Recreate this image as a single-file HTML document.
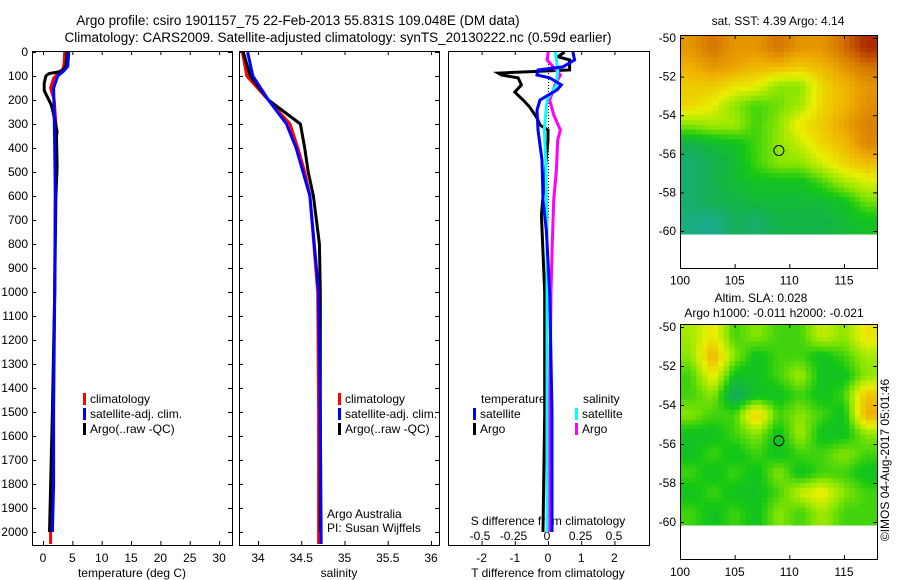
<!DOCTYPE html>
<html><head><meta charset="utf-8"><style>
html,body{margin:0;padding:0;background:#fff;}
svg{display:block;font-family:"Liberation Sans",sans-serif;}
</style></head><body>
<svg id="chart" width="900" height="580" viewBox="0 0 900 580" xmlns="http://www.w3.org/2000/svg">
<text x="298" y="25" font-size="13.5" text-anchor="middle">Argo profile: csiro 1901157_75 22-Feb-2013 55.831S 109.048E (DM data)</text>
<text x="338" y="42" font-size="13.5" text-anchor="middle">Climatology: CARS2009. Satellite-adjusted climatology: synTS_20130222.nc (0.59d earlier)</text>
<g id="g"></g>
</svg>
<script>
// ---- data ----
const tempDepth = [0,50,70,90,110,150,200,300,400,450,600,1000,1500,2000,2050];
const tempClim  = [3.7,3.6,3.4,2.5,1.8,1.3,1.9,2.2,2.2,2.3,2.1,2.0,1.7,1.3,1.3];
const argoTDepth = [0,60,80,90,100,130,160,180,220,260,330,350,480,600,1000,1500,2000];
const tempArgo   = [4.1,3.9,3.2,1.0,0.5,0.2,0.2,0.6,1.4,1.8,2.4,2.3,2.4,2.2,2.0,1.6,1.1];
const satTDepth = [0,60,80,100,150,250,400,600,1000,1500,1800,2000];
const tempSat   = [4.4,4.2,3.5,2.5,1.8,1.9,2.0,2.1,2.0,1.8,1.8,1.6];

const salDepth = [0,100,200,300,400,500,600,1000,1500,2000,2050];
const salClim  = [33.82,33.87,34.12,34.37,34.46,34.54,34.60,34.69,34.70,34.70,34.70];
const salSat   = [33.88,33.94,34.12,34.33,34.44,34.52,34.60,34.70,34.72,34.73,34.73];
const argoSDepth = [0,100,200,300,400,500,600,800,1000,1500,2000];
const salArgo    = [33.83,33.91,34.12,34.49,34.54,34.58,34.64,34.71,34.72,34.72,34.72];

const dTArgoDepth = [0,20,33,75,88,96,108,137,167,200,229,275,304,325,367,680,1000,1500,2000];
const dTArgo      = [0.5,0.3,0.65,0.65,-1.5,-1.4,-0.9,-0.8,-1.0,-0.75,-0.55,-0.33,-0.24,0,0,-0.2,-0.1,-0.1,-0.15];
const dTSatDepth = [0,33,62,75,96,108,137,158,200,242,325,450,617,742,1000,1500,2000];
const dTSat      = [0.75,0.8,0.45,-0.3,-0.33,0.05,0.4,0.27,-0.24,-0.33,-0.3,-0.18,-0.15,-0.05,0.05,0.12,0.12];
const dSArgoDepth = [0,33,96,137,200,262,325,367,492,617,783,1000,1500,2000];
const dSArgo      = [0.01,0.0,0.10,0.06,0.02,0.05,0.10,0.08,0.07,0.05,0.04,0.03,0.02,0.02];
const dSSatDepth = [0,33,75,137,200,325,450,700,1000,1500,2000];
const dSSat      = [0.06,0.07,0.08,0.07,0.0,-0.02,-0.01,0.0,0.0,0.0,0.0];

const sstGrid = [
 [.82,.87,.82,.82,.87,.82,.82,.88,.97],
 [.78,.82,.8,.77,.77,.74,.77,.82,.87],
 [.74,.74,.7,.68,.6,.6,.72,.77,.82],
 [.72,.68,.6,.55,.58,.62,.72,.77,.83],
 [.6,.62,.62,.55,.6,.7,.74,.8,.85],
 [.45,.48,.5,.55,.6,.65,.72,.76,.84],
 [.42,.45,.48,.55,.6,.6,.66,.72,.76],
 [.42,.45,.48,.5,.5,.5,.55,.62,.66],
 [.42,.45,.46,.48,.48,.48,.48,.5,.58],
 [.4,.38,.44,.42,.46,.46,.46,.48,.5]];
const slaGrid = [
 [.62,.7,.55,.6,.55,.55,.65,.6,.7],
 [.6,.78,.6,.5,.55,.55,.5,.55,.62],
 [.55,.7,.5,.5,.55,.62,.5,.5,.6],
 [.55,.6,.42,.5,.5,.55,.5,.55,.75],
 [.6,.55,.55,.75,.55,.6,.55,.5,.78],
 [.5,.5,.55,.6,.5,.62,.5,.5,.6],
 [.5,.55,.5,.55,.5,.55,.55,.6,.55],
 [.55,.5,.55,.5,.6,.5,.55,.55,.5],
 [.5,.55,.5,.5,.55,.65,.7,.6,.55],
 [.55,.5,.55,.5,.6,.55,.62,.55,.55]];
const argoLon = 109.048, argoLat = -55.831;
const depthTicks = [0,100,200,300,400,500,600,700,800,900,1000,1100,1200,1300,1400,1500,1600,1700,1800,1900,2000];
const tempTicks = [0,5,10,15,20,25,30];
const salTicks = [34,34.5,35,35.5,36];
const salTickLabels = ["34","34.5","35","35.5","36"];
const dTTicks = [-2,-1,0,1,2];
const dSTicks = [-0.5,-0.25,0,0.25,0.5];
const dSTickLabels = ["-0.5","-0.25","0","0.25","0.5"];
const latTicks = [-50,-52,-54,-56,-58,-60];
const lonTicks = [100,105,110,115];

// ---- helpers ----
const NS = "http://www.w3.org/2000/svg";
const G = document.getElementById('g');
function el(tag, attrs, parent){const e=document.createElementNS(NS,tag);for(const k in attrs)e.setAttribute(k,attrs[k]);(parent||G).appendChild(e);return e;}
function txt(s,x,y,anchor,parent,size){const t=el('text',{x:x,y:y,'font-size':size||12,'text-anchor':anchor||'start'},parent);t.textContent=s;return t;}
const yD = d => 52 + d*0.24;
const xT = v => 43 + v*5.87;
const xS = v => 258 + (v-34)*86.5;
const xDT = v => 548 + v*33.2;
const xDS = v => 547 + v*134;
function line(depths, vals, xf, color, name){
  const pts = depths.map((d,i)=>xf(vals[i]).toFixed(1)+','+yD(d).toFixed(1)).join(' ');
  const p = el('polyline',{points:pts,fill:'none',stroke:color,'stroke-width':3,'stroke-linejoin':'miter'});
  
  
}
function frame(x0,x1,y0,y1,name){
  const r = el('rect',{x:x0+0.5,y:y0+0.5,width:x1-x0,height:y1-y0,fill:'none',stroke:'#000','stroke-width':1});
  
  
}
function xticks(vals,xf,y0,y1){vals.forEach(v=>{const x=xf(v)+0.5;el('line',{x1:x,x2:x,y1:y0,y2:y0+4,stroke:'#000'});el('line',{x1:x,x2:x,y1:y1,y2:y1-4,stroke:'#000'});});}
function yticks(vals,yf,x0,x1){vals.forEach(v=>{const y=yf(v)+0.5;el('line',{x1:x0,x2:x0+4,y1:y,y2:y,stroke:'#000'});el('line',{x1:x1,x2:x1-4,y1:y,y2:y,stroke:'#000'});});}
function legendItem(x,y,color,label,name){
  const g = el('g',{});
  
  
  el('rect',{x:x,y:y-10,width:3,height:12,fill:color},g);
  txt(label,x+7,y,'start',g);
}

// ---- panel 1 temperature ----
frame(32,232,51,545,'temperature-panel');
xticks(tempTicks,xT,51,545);
yticks(depthTicks,yD,32,232);
depthTicks.forEach(d=>{const t=txt(String(d),28,yD(d)+4,'end');});
tempTicks.forEach(v=>{const t=txt(String(v),xT(v),562,'middle');});
(function(){const t=txt('temperature (deg C)',132,577,'middle');})();
line(tempDepth,tempClim,xT,'#f00','temp-climatology-line');
line(argoTDepth,tempArgo,xT,'#000','temp-argo-line');
line(satTDepth,tempSat,xT,'#00f','temp-satellite-line');
legendItem(83,403,'#f00','climatology','legend-climatology');
legendItem(83,418,'#00f','satellite-adj. clim.','legend-satellite-adj');
legendItem(83,433,'#000','Argo(..raw -QC)','legend-argo');

// ---- panel 2 salinity ----
frame(239,439,51,545,'salinity-panel');
xticks(salTicks,xS,51,545);
yticks(depthTicks,yD,239,439);
salTicks.forEach((v,i)=>{const t=txt(salTickLabels[i],xS(v),562,'middle');});
(function(){const t=txt('salinity',339,577,'middle');})();
line(salDepth,salClim,xS,'#f00','sal-climatology-line');
line(argoSDepth,salArgo,xS,'#000','sal-argo-line');
line(salDepth,salSat,xS,'#00f','sal-satellite-line');
legendItem(338,403,'#f00','climatology','legend-sal-climatology');
legendItem(338,418,'#00f','satellite-adj. clim.','legend-sal-satellite-adj');
legendItem(338,433,'#000','Argo(..raw -QC)','legend-sal-argo');
(function(){const t=txt('Argo Australia',327,518,'start');
const u=txt('PI: Susan Wijffels',327,532,'start');})();

// ---- panel 3 differences ----
frame(448,649,51,545,'difference-panel');
xticks(dTTicks,xDT,51,545);
el('line',{x1:548.5,x2:548.5,y1:52,y2:220,stroke:'#000','stroke-dasharray':'1,2'});
dTTicks.forEach(v=>{const t=txt(String(v),xDT(v),562,'middle');});
dSTicks.forEach((v,i)=>{const t=txt(dSTickLabels[i],xDS(v),540,'middle');});
(function(){const t=txt('S difference from climatology',548,525,'middle');
const u=txt('T difference from climatology',548,577,'middle');})();
line(dTArgoDepth,dTArgo,xDT,'#000','t-diff-argo-line');
line(dSArgoDepth,dSArgo,xDS,'#f0f','s-diff-argo-line');
line(dSSatDepth,dSSat,xDS,'#0ff','s-diff-satellite-line');
line(dTSatDepth,dTSat,xDT,'#00f','t-diff-satellite-line');
(function(){const t=txt('temperature',481,403,'start');
const u=txt('salinity',583,403,'start');})();
legendItem(473,418,'#00f','satellite','legend-t-satellite');
legendItem(473,433,'#000','Argo','legend-t-argo');
legendItem(575,418,'#0ff','satellite','legend-s-satellite');
legendItem(575,433,'#f0f','Argo','legend-s-argo');

// ---- maps ----
const stops=[[0.35,[30,170,170]],[0.45,[20,176,80]],[0.52,[20,200,20]],[0.6,[140,230,0]],[0.68,[232,240,0]],[0.78,[240,176,0]],[0.88,[210,110,0]],[1,[160,20,0]]];
function cmap(v){if(v<=stops[0][0])return 'rgb('+stops[0][1]+')';for(let i=1;i<stops.length;i++){if(v<=stops[i][0]){const a=stops[i-1],b=stops[i];const f=(v-a[0])/(b[0]-a[0]);return 'rgb('+a[1].map((c,j)=>Math.round(c+(b[1][j]-c)*f)).join(',')+')';}}return 'rgb('+stops[stops.length-1][1]+')';}
function sample(grid,fr,fc){
  const r=Math.max(0,Math.min(9,fr-0.5)), c=Math.max(0,Math.min(8,fc-0.5));
  const r0=Math.floor(r), c0=Math.floor(c), r1=Math.min(9,r0+1), c1=Math.min(8,c0+1);
  const a=r-r0, b=c-c0;
  return grid[r0][c0]*(1-a)*(1-b)+grid[r0][c1]*(1-a)*b+grid[r1][c0]*a*(1-b)+grid[r1][c1]*a*b;
}
function drawMap(grid,top,latTop,latBot,name){
  const lx = v => 680 + (v-100)*10.93;
  const ly = v => top + (-50 - v)*((latBot-latTop)/10);
  const g = el('g',{});
  
  
  const y0 = ly(-49.85), yEnd = ly(-60.15);
  const N=4;
  for(let r=0;r<10*N;r++){for(let c=0;c<9*N;c++){
    const fr=(r+0.5)/N, fc=(c+0.5)/N;
    const v=sample(grid,fr,fc);
    const x=lx(100+c*2/N), w=lx(100+(c+1)*2/N)-x;
    const ya = r===0? y0 : ly(-50-r/N), yb = r===10*N-1? yEnd : ly(-50-(r+1)/N);
    el('rect',{x:x.toFixed(1),y:ya.toFixed(1),width:(w+0.6).toFixed(1),height:(yb-ya+0.6).toFixed(1),fill:cmap(v)},g);
  }}
  const bottom = ly(-61.9);
  frame(680,877,Math.round(y0),Math.round(bottom),name+'-frame');
  xticks(lonTicks,lx,Math.round(y0),Math.round(bottom));
  yticks(latTicks,ly,680,877);
  latTicks.forEach(v=>{const t=txt(String(v),676,ly(v)+4,'end');});
  lonTicks.forEach(v=>{const t=txt(String(v),lx(v),bottom+17,'middle');});
  const m = el('circle',{cx:lx(argoLon),cy:ly(argoLat),r:5,fill:'none',stroke:'#000','stroke-width':1});
  
  
}
drawMap(sstGrid,38,38,231,'sst-map');
drawMap(slaGrid,327,327,522,'sla-map');
(function(){
const a=txt('sat. SST: 4.39 Argo: 4.14',778,25,'middle');
const b=txt('Altim. SLA: 0.028',761,302,'middle');
const c=txt('Argo h1000: -0.011 h2000: -0.021',774,317,'middle');
const d=txt('©IMOS 04-Aug-2017 05:01:46',0,0,'middle');d.setAttribute('transform','translate(889,460) rotate(-90)');
})();
</script>
</body></html>
